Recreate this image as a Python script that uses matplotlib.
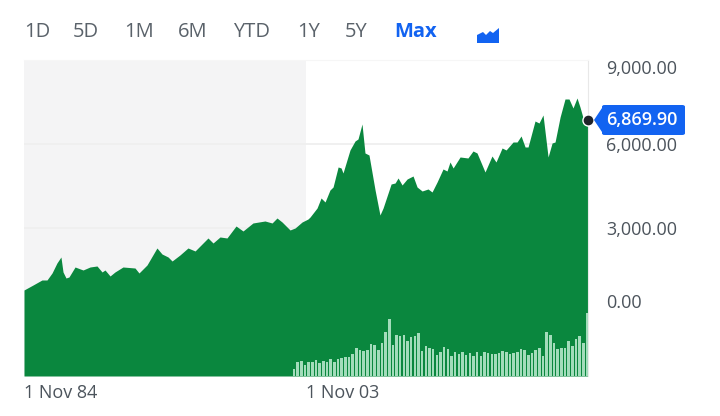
#Index area chart with volume bars, range buttons on top
import matplotlib
matplotlib.use('Agg')
import matplotlib.pyplot as plt
import numpy as np
from matplotlib.patches import Polygon, FancyBboxPatch

plt.rcParams['font.family'] = ['Open Sans', 'DejaVu Sans']

W, H = 720, 416

years = [1984.83, 1985.44, 1986.04, 1986.38, 1986.72, 1987.05, 1987.32, 1987.46, 1987.66, 1987.86,
         1988.27, 1988.81, 1989.28, 1989.75, 1990.09, 1990.29, 1990.63, 1990.96, 1991.50, 1992.31,
         1992.58, 1993.12, 1993.79, 1994.13, 1994.54, 1994.81, 1995.34, 1995.88, 1996.36, 1997.23,
         1997.57, 1998.04, 1998.51, 1999.12, 1999.59, 2000.26, 2001.07, 2001.55, 2001.88, 2002.22,
         2002.76, 2003.10, 2003.57, 2003.97, 2004.11, 2004.58, 2004.85, 2005.12, 2005.45, 2005.66,
         2006.00, 2006.20, 2006.33, 2006.80, 2007.14, 2007.34, 2007.61, 2007.81, 2008.08, 2008.49,
         2008.82, 2009.03, 2009.57, 2009.84, 2010.04, 2010.31, 2010.65, 2011.05, 2011.32, 2011.66,
         2012.06, 2012.33, 2012.67, 2013.07, 2013.34, 2013.54, 2013.75, 2014.22, 2014.75, 2015.09,
         2015.36, 2015.90, 2016.37, 2016.64, 2017.05, 2017.32, 2017.79, 2018.06, 2018.33, 2018.60,
         2018.80, 2019.27, 2019.54, 2019.81, 2020.15, 2020.42, 2020.62, 2020.96, 2021.29, 2021.56,
         2021.83, 2022.10, 2022.30, 2022.51, 2022.84]
closes = [786, 964, 1143, 1143, 1393, 1750, 1964, 1429, 1214, 1250,
          1607, 1500, 1607, 1643, 1429, 1500, 1286, 1429, 1607, 1571,
          1393, 1679, 2286, 2071, 1964, 1821, 2036, 2286, 2179, 2643,
          2464, 2679, 2643, 3071, 2893, 3179, 3250, 3179, 3357, 3214,
          2929, 3000, 3214, 3321, 3393, 3714, 4071, 3929, 4357, 4464,
          5179, 5143, 4964, 5786, 6107, 6179, 6714, 5679, 5607, 4357,
          3464, 3714, 4571, 4607, 4786, 4536, 4750, 4857, 4464, 4321,
          4393, 4286, 4643, 5107, 5036, 5357, 5143, 5536, 5500, 5750,
          5679, 5000, 5571, 5357, 5857, 5786, 6071, 6071, 6286, 5893,
          5893, 6821, 6750, 7036, 5536, 6036, 6071, 6964, 7607, 7607,
          7286, 7643, 7321, 6929, 6869.90]

volumes = [6.7, 14, 15.3, 11, 14, 14.3, 16, 12.7, 14.7, 14.3,
           16.7, 14.3, 16.7, 17.7, 19.3, 18.7, 22, 27.7, 25.7, 25.3,
           26, 31.7, 31.3, 26, 33.3, 44.3, 57, 31, 41, 40,
           41, 35.3, 39.3, 40, 42.7, 25.3, 30, 28.3, 26.7, 21,
           24.3, 29.3, 26.7, 20, 24.3, 21.7, 24.3, 21, 23.3, 20.3,
           24.3, 20, 24.3, 22.7, 22, 21.7, 22.7, 24.7, 24.3, 21.7,
           22.7, 24.3, 26.7, 26, 21, 22.7, 26, 28.3, 20.3, 43.7,
           41.3, 33, 26.7, 27.7, 28.3, 35.3, 30.3, 37, 40.3, 33, 62.7]
volume_years = np.linspace(2003.03, 2022.77, len(volumes))

range_labels = ['1D', '5D', '1M', '6M', 'YTD', '1Y', '5Y', 'Max']
range_x = [24, 73, 124, 178, 233, 297, 345, 394]

price_ticks = [9000, 6000, 3000, 0]
price_labels = ['9,000.00', '6,000.00', '3,000.00', '0.00']
date_ticks = [1984.83, 2003.83]
date_labels = ['1 Nov 84', '1 Nov 03']
last_label = '6,869.90'

GREEN = '#0a873e'
BLUE = '#1263f1'
GREY = '#4c545c'

#pixel position (from top left) to figure fraction
def px(x, y):
    return x / W, 1 - y / H

fig = plt.figure(figsize=(W / 100, H / 100), dpi=100)
ax = fig.add_axes([24 / W, 1 - 376 / H, 564 / W, 316 / H])
ax.set_xlim(1984.83, 2022.84)
ax.set_ylim(-2286, 9000)

#volume on its own hidden axis, twinx moves the price ticks so set those after
ax2 = ax.twinx()
ax2.set_ylim(0, 316)
ax2.axis('off')
ax2.bar(volume_years, volumes, width=0.17, color='#a3dcbb', lw=0)

ax.axvspan(1984.83, 2003.83, color='#f4f4f5', lw=0, zorder=0)
for t in [3000, 6000]:
    ax.axhline(t, color='#eeeeee', lw=1.2, zorder=1)
ax.fill_between(years, closes, -2286, color=GREEN, lw=0, zorder=2)

for s in ['left', 'bottom']:
    ax.spines[s].set_visible(False)
ax.spines['top'].set_color('#f6f6f6')
ax.spines['right'].set_color('#e8e8e8')

ax.yaxis.tick_right()
ax.set_yticks(price_ticks, price_labels)
ax.set_xticks(date_ticks, date_labels)
ax.tick_params(axis='y', length=0, pad=13, labelsize=13, labelcolor=GREY)
ax.tick_params(axis='x', length=0, pad=6, labelsize=13, labelcolor=GREY)
for lab in ax.get_xticklabels():
    lab.set_ha('left')
ylabs = ax.get_yticklabels()
ylabs[0].set_va('top')
ylabs[3].set_va('bottom')

#last value marker and tag
ax.plot(years[-1], closes[-1], 'o', ms=8, mfc='#1f2328', mec='white', mew=1, clip_on=False, zorder=5)
x0, y0 = px(602, 135)
x1, y1 = px(685, 105)
fig.add_artist(FancyBboxPatch((x0, y0), x1 - x0, y1 - y0, boxstyle='round,pad=0,rounding_size=0.004',
                              transform=fig.transFigure, fc=BLUE, ec='none', zorder=6))
fig.add_artist(Polygon([px(594, 120), px(604, 105), px(604, 135)], transform=fig.transFigure,
                       fc=BLUE, ec='none', zorder=6))
tx, ty = px(642, 120)
fig.text(tx, ty, last_label, color='white', fontsize=13, fontweight='semibold', ha='center', va='center', zorder=7)

#range buttons
for lab, x in zip(range_labels, range_x):
    active = lab == 'Max'
    tx, ty = px(x, 32)
    fig.text(tx, ty, lab, ha='left', va='center', fontsize=14.5,
             color=BLUE if active else '#5a626a', fontweight='bold' if active else 'normal')

#chart type icon
icon = [(477, 43), (477, 35), (483, 32), (486, 35), (490, 31), (493, 33), (499, 28), (499, 43)]
fig.add_artist(Polygon([px(*p) for p in icon], transform=fig.transFigure, fc=BLUE, ec='none'))

fig.savefig('out.png', dpi=100)
